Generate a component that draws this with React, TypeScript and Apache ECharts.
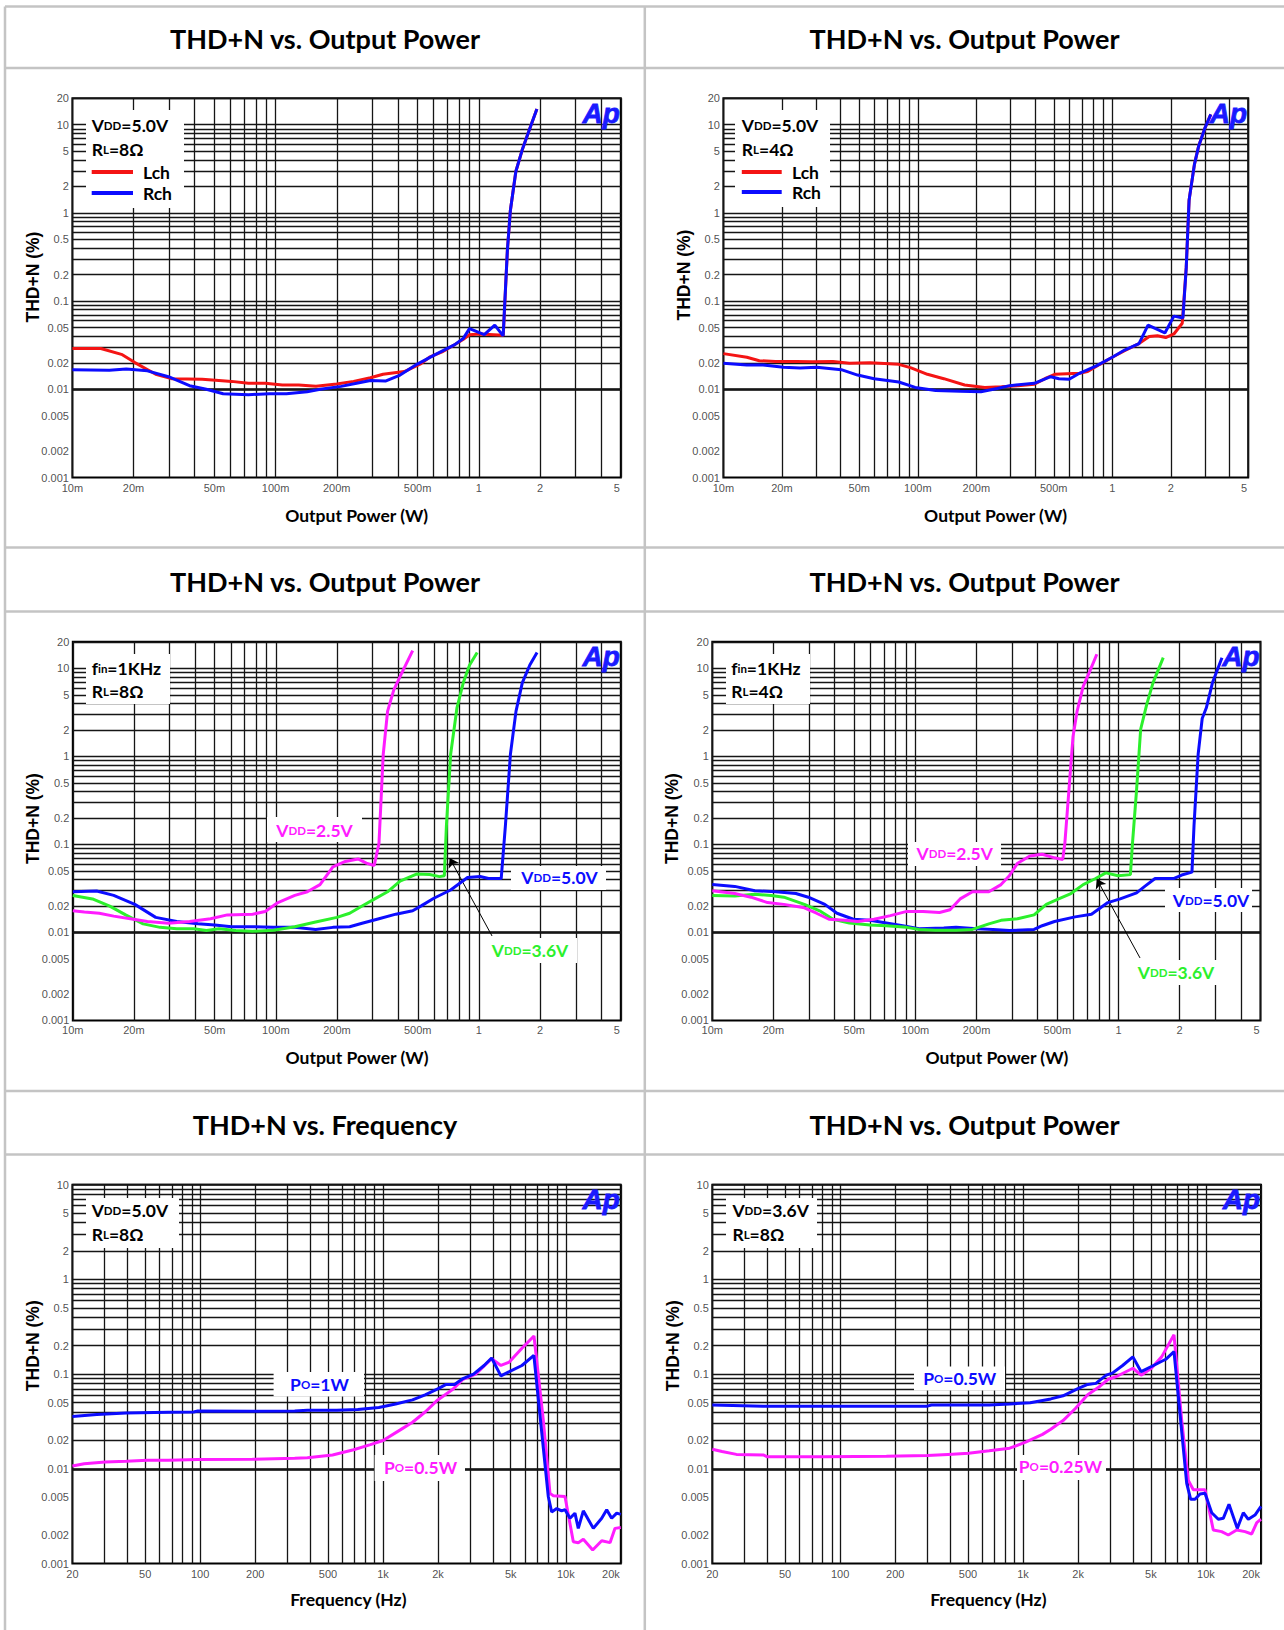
import React, { useEffect, useRef } from "react";
import * as echarts from "echarts";

// ---------------- tick labels ----------------
const powerTicks = [0.01, 0.02, 0.05, 0.1, 0.2, 0.5, 1, 2, 5];
const powerTickLabels = ["10m", "20m", "50m", "100m", "200m", "500m", "1", "2", "5"];
const freqTicks = [20, 50, 100, 200, 500, 1000, 2000, 5000, 10000, 20000];
const freqTickLabels = ["20", "50", "100", "200", "500", "1k", "2k", "5k", "10k", "20k"];
const thdTicksPower = [20, 10, 5, 2, 1, 0.5, 0.2, 0.1, 0.05, 0.02, 0.01, 0.005, 0.002, 0.001];
const thdTickLabelsPower = ["20", "10", "5", "2", "1", "0.5", "0.2", "0.1", "0.05", "0.02", "0.01", "0.005", "0.002", "0.001"];
const thdTicksFreq = [10, 5, 2, 1, 0.5, 0.2, 0.1, 0.05, 0.02, 0.01, 0.005, 0.002, 0.001];
const thdTickLabelsFreq = ["10", "5", "2", "1", "0.5", "0.2", "0.1", "0.05", "0.02", "0.01", "0.005", "0.002", "0.001"];

const titles = [
  "THD+N vs. Output Power",
  "THD+N vs. Output Power",
  "THD+N vs. Output Power",
  "THD+N vs. Output Power",
  "THD+N vs. Frequency",
  "THD+N vs. Output Power",
];

// ---------------- data: panel 1 (VDD=5.0V, RL=8Ω) ----------------
const p1Lch = [
  [0.01, 0.029], [0.0138, 0.029], [0.0176, 0.0247], [0.0203, 0.0201], [0.0257, 0.0148], [0.031, 0.0132],
  [0.0435, 0.013], [0.0526, 0.0126], [0.0607, 0.0123], [0.0735, 0.0117], [0.089, 0.0117], [0.108, 0.0112],
  [0.13, 0.0112], [0.158, 0.0108], [0.2, 0.0115], [0.242, 0.0123], [0.293, 0.0135], [0.338, 0.0148],
  [0.43, 0.0159], [0.52, 0.0196], [0.572, 0.0231], [0.66, 0.0266], [0.76, 0.032], [0.84, 0.037],
  [0.9, 0.0416], [1.01, 0.0424], [1.32, 0.041], [1.383, 0.379], [1.43, 1.057], [1.522, 2.95],
  [1.635, 5.16], [1.756, 8.22], [1.932, 15.07],
];
const p1Rch = [
  [0.01, 0.0167], [0.0152, 0.0164], [0.0184, 0.017], [0.0234, 0.0162], [0.0297, 0.0139], [0.0377, 0.011],
  [0.0456, 0.01], [0.0552, 0.0089], [0.0735, 0.0087], [0.0933, 0.0089], [0.113, 0.0089], [0.143, 0.0094],
  [0.166, 0.01], [0.21, 0.0108], [0.254, 0.0118], [0.293, 0.0126], [0.347, 0.0124], [0.41, 0.0145],
  [0.496, 0.0192], [0.6, 0.0243], [0.762, 0.0321], [0.838, 0.0376], [0.9, 0.0488], [1.064, 0.0416],
  [1.199, 0.0535], [1.318, 0.0404], [1.383, 0.379], [1.43, 1.057], [1.522, 2.95], [1.635, 5.16],
  [1.756, 8.22], [1.932, 15.07],
];

// ---------------- data: panel 2 (VDD=5.0V, RL=4Ω) ----------------
const p2Lch = [
  [0.01, 0.0254], [0.0132, 0.0231], [0.0153, 0.0211], [0.0185, 0.0207], [0.0237, 0.0207], [0.0287, 0.0205],
  [0.0366, 0.0207], [0.0445, 0.0198], [0.0568, 0.02], [0.0798, 0.0192], [0.0923, 0.0175], [0.112, 0.0148],
  [0.136, 0.0132], [0.174, 0.0112], [0.221, 0.0105], [0.269, 0.0107], [0.327, 0.011], [0.397, 0.0114],
  [0.459, 0.0135], [0.506, 0.0148], [0.678, 0.0152], [0.747, 0.0159], [0.864, 0.0192], [1.0, 0.0231],
  [1.157, 0.0274], [1.372, 0.033], [1.549, 0.0397], [1.708, 0.0405], [1.882, 0.0386], [2.074, 0.0424],
  [2.29, 0.0561], [2.4, 0.238], [2.483, 1.398], [2.645, 3.553], [2.777, 5.66], [2.987, 9.03], [3.21, 13.1],
];
const p2Rch = [
  [0.01, 0.0198], [0.0132, 0.0189], [0.016, 0.0189], [0.0204, 0.0178], [0.0248, 0.0175], [0.0302, 0.0178],
  [0.0404, 0.0167], [0.049, 0.0145], [0.0596, 0.0132], [0.0798, 0.0121], [0.0969, 0.0105], [0.1235, 0.0097],
  [0.165, 0.0095], [0.211, 0.0094], [0.256, 0.0102], [0.297, 0.011], [0.397, 0.0117], [0.482, 0.0139],
  [0.532, 0.0132], [0.6, 0.013], [0.678, 0.0152], [0.823, 0.0183], [1.0, 0.0231], [1.157, 0.0279],
  [1.372, 0.033], [1.527, 0.0535], [1.864, 0.0436], [2.074, 0.0676], [2.308, 0.0645], [2.4, 0.238],
  [2.483, 1.398], [2.645, 3.553], [2.777, 5.66], [2.987, 9.03], [3.21, 13.1],
];

// ---------------- data: panel 3 (fin=1KHz, RL=8Ω) ----------------
const p3Vdd25 = [
  [0.01, 0.0176], [0.0114, 0.017], [0.0135, 0.0165], [0.0159, 0.0153], [0.0192, 0.0143], [0.0233, 0.0133],
  [0.0296, 0.0127], [0.0376, 0.0133], [0.0477, 0.0143], [0.0577, 0.0158], [0.0769, 0.0161], [0.0887, 0.0173],
  [0.1024, 0.0218], [0.124, 0.0263], [0.143, 0.0289], [0.165, 0.0349], [0.191, 0.0556], [0.22, 0.064],
  [0.254, 0.0683], [0.279, 0.0611], [0.305, 0.0575], [0.322, 0.102], [0.338, 1.056], [0.355, 3.24],
  [0.381, 5.68], [0.419, 9.06], [0.472, 15.86],
];
const p3Vdd36 = [
  [0.01, 0.0263], [0.0125, 0.024], [0.0152, 0.0199], [0.0183, 0.0157], [0.0222, 0.0125], [0.0269, 0.0114],
  [0.0325, 0.011], [0.0394, 0.011], [0.0455, 0.0105], [0.0525, 0.011], [0.0635, 0.0105], [0.0769, 0.0103],
  [0.0976, 0.0106], [0.124, 0.0116], [0.157, 0.0131], [0.2, 0.0148], [0.231, 0.0165], [0.266, 0.0199],
  [0.307, 0.024], [0.355, 0.0289], [0.409, 0.0383], [0.496, 0.0461], [0.572, 0.0455], [0.64, 0.043],
  [0.676, 0.044], [0.692, 0.163], [0.726, 1.056], [0.78, 3.556], [0.8375, 6.84], [0.9, 10.9], [0.981, 15.1],
];
const p3Vdd50 = [
  [0.01, 0.0289], [0.0131, 0.0295], [0.0159, 0.0263], [0.0202, 0.0208], [0.0256, 0.0148], [0.0325, 0.0133],
  [0.0413, 0.0125], [0.05, 0.0121], [0.0605, 0.0116], [0.0769, 0.0116], [0.0976, 0.0114], [0.124, 0.0114],
  [0.157, 0.0108], [0.191, 0.0114], [0.231, 0.0116], [0.266, 0.0127], [0.322, 0.0143], [0.39, 0.0161],
  [0.472, 0.0176], [0.52, 0.02], [0.6, 0.0244], [0.726, 0.0303], [0.879, 0.042], [1.014, 0.0432],
  [1.116, 0.0409], [1.288, 0.0409], [1.351, 0.163], [1.43, 1.056], [1.523, 3.24], [1.636, 6.84],
  [1.782, 10.9], [1.934, 15.1],
];

// ---------------- data: panel 4 (fin=1KHz, RL=4Ω) ----------------
const p4Vdd25 = [
  [0.01, 0.0297], [0.0129, 0.0276], [0.0155, 0.0251], [0.0187, 0.0218], [0.0225, 0.0208], [0.0284, 0.019],
  [0.0326, 0.0165], [0.0375, 0.0141], [0.0451, 0.0137], [0.0519, 0.0133], [0.0625, 0.0141], [0.0753, 0.0155],
  [0.0907, 0.0173], [0.109, 0.0173], [0.1315, 0.0168], [0.148, 0.0181], [0.166, 0.024], [0.191, 0.0289],
  [0.23, 0.0289], [0.264, 0.0349], [0.29, 0.044], [0.3185, 0.0611], [0.366, 0.0736], [0.421, 0.0771],
  [0.484, 0.0703], [0.531, 0.067], [0.544, 0.102], [0.57, 0.415], [0.597, 1.684], [0.625, 3.24],
  [0.67, 6.23], [0.719, 9.06], [0.782, 14.45],
];
const p4Vdd36 = [
  [0.01, 0.0263], [0.0129, 0.0259], [0.0162, 0.0271], [0.0195, 0.0263], [0.0225, 0.0251], [0.0284, 0.0208],
  [0.0342, 0.0173], [0.0393, 0.0141], [0.0473, 0.0128], [0.0597, 0.0121], [0.0719, 0.0119], [0.0907, 0.0114],
  [0.1043, 0.0108], [0.1256, 0.0106], [0.1585, 0.0106], [0.191, 0.0108], [0.23, 0.0125], [0.264, 0.0137],
  [0.3185, 0.0143], [0.384, 0.0158], [0.441, 0.0208], [0.507, 0.024], [0.583, 0.0276], [0.67, 0.0349],
  [0.771, 0.0409], [0.866, 0.0474], [0.995, 0.044], [1.144, 0.0453], [1.171, 0.102], [1.227, 0.415],
  [1.285, 2.03], [1.378, 3.91], [1.478, 6.84], [1.66, 13.2],
];
const p4Vdd50 = [
  [0.01, 0.0349], [0.0129, 0.0333], [0.0162, 0.0297], [0.0205, 0.0289], [0.0258, 0.0276], [0.0297, 0.0251],
  [0.0358, 0.0208], [0.0411, 0.0165], [0.0495, 0.0141], [0.0597, 0.0137], [0.0719, 0.0128], [0.0866, 0.0119],
  [0.1043, 0.011], [0.1379, 0.0112], [0.1585, 0.0114], [0.2, 0.011], [0.241, 0.0108], [0.29, 0.0105],
  [0.384, 0.0108], [0.421, 0.0119], [0.484, 0.0133], [0.611, 0.015], [0.736, 0.0161], [0.886, 0.0218],
  [1.019, 0.024], [1.227, 0.0281], [1.346, 0.0333], [1.513, 0.0409], [1.865, 0.0409], [2.046, 0.0448],
  [2.299, 0.0483], [2.353, 0.163], [2.466, 1.056], [2.582, 2.69], [2.706, 3.556], [2.9, 6.84], [3.23, 13.2],
];

// ---------------- data: panel 5 (THD+N vs frequency, VDD=5.0V, RL=8Ω) ----------------
const p5Po1W = [
  [20, 0.0357], [27.2, 0.0375], [39.4, 0.0388], [67, 0.0395], [92, 0.0398], [97, 0.0408], [193, 0.0405],
  [329, 0.0408], [386, 0.0415], [559, 0.0415], [728, 0.0422], [949, 0.0444], [1173, 0.0483], [1451, 0.0534],
  [1701, 0.0605], [1994, 0.0698], [2216, 0.0778], [2465, 0.0778], [2740, 0.0897], [3129, 0.1], [3573, 0.1233],
  [3931, 0.148], [4416, 0.0959], [4910, 0.106], [5757, 0.1233], [6690, 0.158], [8023, 0.0051], [8375, 0.0035],
  [8921, 0.0038], [9497, 0.0036], [9900, 0.0037], [10545, 0.003], [11226, 0.0034], [11707, 0.00235],
  [12474, 0.0036], [14146, 0.00235], [15726, 0.003], [16746, 0.0037], [17826, 0.003], [18997, 0.0034],
  [20000, 0.0033],
];
const p5Po05W = [
  [20, 0.0107], [23.2, 0.0113], [30.2, 0.0118], [39.4, 0.012], [51.4, 0.0123], [67, 0.0123], [97, 0.0125],
  [193, 0.0126], [329, 0.0129], [386, 0.0131], [530, 0.014], [691, 0.0159], [854, 0.018], [1001, 0.0199],
  [1237, 0.0256], [1451, 0.031], [1701, 0.0398], [1994, 0.0534], [2401, 0.0686], [2740, 0.0882], [3212, 0.1],
  [3931, 0.1458], [4416, 0.1233], [4910, 0.1341], [5757, 0.1874], [6700, 0.2526], [7534, 0.0327],
  [8197, 0.0055], [8549, 0.0052], [9900, 0.0051], [10996, 0.0017], [11707, 0.00166], [12474, 0.0018],
  [14035, 0.00139], [15726, 0.00174], [17460, 0.00166], [18595, 0.00235], [20000, 0.0024],
];

// ---------------- data: panel 6 (THD+N vs frequency, VDD=3.6V, RL=8Ω) ----------------
const p6Po05W = [
  [20, 0.0471], [38, 0.0459], [300, 0.0459], [316, 0.0471], [653, 0.0471], [845, 0.0483], [1095, 0.0499],
  [1418, 0.0547], [1655, 0.059], [2035, 0.0715], [2257, 0.0778], [2503, 0.0798], [2849, 0.0975],
  [3079, 0.1025], [3503, 0.1233], [3987, 0.152], [4421, 0.106], [5164, 0.1233], [6030, 0.1434],
  [6689, 0.1724], [7849, 0.007], [8253, 0.00476], [8711, 0.00476], [9283, 0.00542], [9883, 0.00551],
  [10755, 0.00344], [11684, 0.00293], [12441, 0.003], [13365, 0.00422], [14840, 0.00235], [16007, 0.00344],
  [17044, 0.00293], [18541, 0.00325], [20000, 0.004],
];
const p6Po025W = [
  [20, 0.0161], [22.6, 0.0152], [27.1, 0.0142], [38, 0.014], [40, 0.0134], [82.5, 0.0134], [179, 0.0136],
  [300, 0.0138], [389, 0.0142], [504, 0.0146], [653, 0.0155], [845, 0.0165], [1040, 0.0192], [1278, 0.0231],
  [1418, 0.0262], [1655, 0.0323], [1933, 0.0433], [2257, 0.0605], [2636, 0.0746], [2923, 0.0882],
  [3242, 0.0943], [3987, 0.1153], [4421, 0.0975], [5031, 0.1153], [5725, 0.152], [6689, 0.26], [7369, 0.0327],
  [8000, 0.0076], [8531, 0.006], [9883, 0.006], [10967, 0.00226], [12187, 0.00217], [13246, 0.002],
  [14724, 0.00226], [16356, 0.00217], [17790, 0.00205], [18960, 0.0027], [20000, 0.00293],
];

// ---------------- styling ----------------
const RED = "#f41414";
const BLUE = "#0c0cff";
const MAGENTA = "#ff1cff";
const GREEN = "#2cf02c";
const FONT = 'Lato, "Noto Sans", sans-serif';
const TICK_FONT = '"Liberation Sans", Arial, sans-serif';

type Curve = { data: number[][]; color: string; arrow?: number[][] };
type Panel = {
  left: number; top: number; width: number; height: number;
  xMin: number; xMax: number; yMin: number; yMax: number;
  xTicks: number[]; xLabels: string[]; yTicks: number[]; yLabels: string[];
  curves: Curve[];
};

const panels: Panel[] = [
  {
    left: 72.4, top: 98.2, width: 548.4, height: 379.3, xMin: 0.01, xMax: 5, yMin: 0.001, yMax: 20,
    xTicks: powerTicks, xLabels: powerTickLabels, yTicks: thdTicksPower, yLabels: thdTickLabelsPower,
    curves: [{ data: p1Lch, color: RED }, { data: p1Rch, color: BLUE }],
  },
  {
    left: 723.4, top: 98.2, width: 524.8, height: 379.3, xMin: 0.01, xMax: 5, yMin: 0.001, yMax: 20,
    xTicks: powerTicks, xLabels: powerTickLabels, yTicks: thdTicksPower, yLabels: thdTickLabelsPower,
    curves: [{ data: p2Lch, color: RED }, { data: p2Rch, color: BLUE }],
  },
  {
    left: 72.8, top: 641.8, width: 548, height: 378.6, xMin: 0.01, xMax: 5, yMin: 0.001, yMax: 20,
    xTicks: powerTicks, xLabels: powerTickLabels, yTicks: thdTicksPower, yLabels: thdTickLabelsPower,
    curves: [
      { data: p3Vdd50, color: BLUE },
      { data: p3Vdd36, color: GREEN, arrow: [[1.161, 0.0091], [0.7175, 0.07]] },
      { data: p3Vdd25, color: MAGENTA },
    ],
  },
  {
    left: 712.3, top: 641.8, width: 548.2, height: 378.6, xMin: 0.01, xMax: 5, yMin: 0.001, yMax: 20,
    xTicks: powerTicks, xLabels: powerTickLabels, yTicks: thdTicksPower, yLabels: thdTickLabelsPower,
    curves: [
      { data: p4Vdd50, color: BLUE },
      { data: p4Vdd36, color: GREEN, arrow: [[1.276, 0.00512], [0.781, 0.0404]] },
      { data: p4Vdd25, color: MAGENTA },
    ],
  },
  {
    left: 72.4, top: 1184.7, width: 548.4, height: 378.8, xMin: 20, xMax: 20000, yMin: 0.001, yMax: 10,
    xTicks: freqTicks, xLabels: freqTickLabels, yTicks: thdTicksFreq, yLabels: thdTickLabelsFreq,
    curves: [{ data: p5Po05W, color: MAGENTA }, { data: p5Po1W, color: BLUE }],
  },
  {
    left: 712.3, top: 1184.7, width: 548.7, height: 378.8, xMin: 20, xMax: 20000, yMin: 0.001, yMax: 10,
    xTicks: freqTicks, xLabels: freqTickLabels, yTicks: thdTicksFreq, yLabels: thdTickLabelsFreq,
    curves: [{ data: p6Po025W, color: MAGENTA }, { data: p6Po05W, color: BLUE }],
  },
];

// grid positions 1..9 x 10^n inside [min, max]
function gridValues(min: number, max: number): number[] {
  const out: number[] = [];
  const d0 = Math.floor(Math.log10(min)) - 1;
  const d1 = Math.ceil(Math.log10(max)) + 1;
  for (let d = d0; d <= d1; d++) {
    for (let m = 1; m <= 9; m++) {
      const v = Number((m * Math.pow(10, d)).toPrecision(6));
      if (v >= min * 0.9999 && v <= max * 1.0001) out.push(v);
    }
  }
  return out;
}

// ---------------- graphic helpers ----------------
const gLine = (x1: number, y1: number, x2: number, y2: number, color: string, w: number, z = 30) => ({
  type: "line", silent: true, z, shape: { x1, y1, x2, y2 }, style: { stroke: color, lineWidth: w },
});
const gRect = (x: number, y: number, w: number, h: number) => ({
  type: "rect", silent: true, z: 40, shape: { x, y, width: w, height: h }, style: { fill: "#ffffff" },
});
const gText = (x: number, y: number, text: string, font: string, fill: string, align = "center", rotation = 0) => ({
  type: "text", silent: true, z: 45, x, y, rotation,
  style: { text, font, fill, align, verticalAlign: "middle" },
});
// rich annotation: parts [text, 'b' | 's'] -> big / small letters
const gAnn = (x: number, y: number, parts: [string, string][], fill: string, align = "left") => ({
  type: "text", silent: true, z: 45, x, y,
  style: {
    text: parts.map(([t, k]) => `{${k}|${t}}`).join(""),
    fill, align, verticalAlign: "middle",
    rich: {
      b: { fontSize: 17.5, fontWeight: "bold", fontFamily: FONT, fill },
      s: { fontSize: 11.5, fontWeight: "bold", fontFamily: FONT, fill },
    },
  },
});

function buildGraphics() {
  const g: any[] = [];
  const border = "#c4c4c4";
  // table frame
  [6.4, 68, 547.5, 611.4, 1091, 1154.4].forEach((y) => g.push(gLine(5, y, 1284, y, border, 2.5, 10)));
  [5, 644.8].forEach((x) => g.push(gLine(x, 6.4, x, 1630, border, 2.5, 10)));

  // titles
  const titlePos = [[325, 38], [964.5, 38], [325, 581], [964.5, 581], [325, 1124], [964.5, 1124]];
  titlePos.forEach(([x, y], i) => g.push(gText(x, y, titles[i], `bold 27px ${FONT}`, "#000")));

  // axis names
  const xNames = ["Output Power (W)", "Output Power (W)", "Output Power (W)", "Output Power (W)", "Frequency (Hz)", "Frequency (Hz)"];
  const xNamePos = [[356.7, 515], [995.6, 515], [357, 1057], [996.9, 1057], [348.3, 1599.6], [988.3, 1599.6]];
  const yNamePos = [[33, 277], [684.4, 275], [32.8, 818.6], [672, 818.6], [32.8, 1345.7], [672.9, 1345.7]];
  xNamePos.forEach(([x, y], i) => g.push(gText(x, y, xNames[i], `bold 17.5px ${FONT}`, "#000")));
  yNamePos.forEach(([x, y]) => g.push(gText(x, y, "THD+N (%)", `bold 17.5px ${TICK_FONT}`, "#000", "center", Math.PI / 2)));

  // Ap logos
  panels.forEach((p) =>
    g.push({
      type: "text", silent: true, z: 45, x: p.left + p.width - 1, y: p.top + 1,
      style: { text: "Ap", font: `italic 900 28px ${TICK_FONT}`, fill: "#1a1aff", align: "right", verticalAlign: "top", stroke: "#1a1aff", lineWidth: 0.8 },
    })
  );

  // panel 1 legend box
  g.push(gRect(86, 110, 98, 98));
  g.push(gAnn(91.7, 125, [["V", "b"], ["DD", "s"], ["=5.0V", "b"]], "#000"));
  g.push(gAnn(91.7, 149, [["R", "b"], ["L", "s"], ["=8Ω", "b"]], "#000"));
  g.push(gLine(91.7, 172, 133, 172, RED, 4, 46));
  g.push(gLine(91.7, 193, 133, 193, BLUE, 4, 46));
  g.push(gAnn(143, 172, [["Lch", "b"]], "#000"));
  g.push(gAnn(143, 193, [["Rch", "b"]], "#000"));

  // panel 2 legend box
  g.push(gRect(735, 110, 95, 97));
  g.push(gAnn(741.8, 125, [["V", "b"], ["DD", "s"], ["=5.0V", "b"]], "#000"));
  g.push(gAnn(741.8, 149, [["R", "b"], ["L", "s"], ["=4Ω", "b"]], "#000"));
  g.push(gLine(741.8, 172, 781.7, 172, RED, 4, 46));
  g.push(gLine(741.8, 192, 781.7, 192, BLUE, 4, 46));
  g.push(gAnn(792, 172, [["Lch", "b"]], "#000"));
  g.push(gAnn(792, 192, [["Rch", "b"]], "#000"));

  // panel 3
  g.push(gRect(86, 654, 84, 50));
  g.push(gAnn(91.7, 668.6, [["f", "b"], ["in", "s"], ["=1KHz", "b"]], "#000"));
  g.push(gAnn(91.7, 691.8, [["R", "b"], ["L", "s"], ["=8Ω", "b"]], "#000"));
  g.push(gRect(267, 817, 95, 25));
  g.push(gAnn(314.5, 830, [["V", "b"], ["DD", "s"], ["=2.5V", "b"]], MAGENTA, "center"));
  g.push(gRect(511, 866, 95, 24));
  g.push(gAnn(559.5, 877.5, [["V", "b"], ["DD", "s"], ["=5.0V", "b"]], BLUE, "center"));
  g.push(gRect(482, 938, 95, 25));
  g.push(gAnn(530, 950.7, [["V", "b"], ["DD", "s"], ["=3.6V", "b"]], GREEN, "center"));

  // panel 4
  g.push(gRect(726, 654, 84, 50));
  g.push(gAnn(731.2, 668.6, [["f", "b"], ["in", "s"], ["=1KHz", "b"]], "#000"));
  g.push(gAnn(731.2, 691.8, [["R", "b"], ["L", "s"], ["=4Ω", "b"]], "#000"));
  g.push(gRect(908, 842, 93, 24));
  g.push(gAnn(954.7, 853.6, [["V", "b"], ["DD", "s"], ["=2.5V", "b"]], MAGENTA, "center"));
  g.push(gRect(1165, 888, 87, 24));
  g.push(gAnn(1211, 900, [["V", "b"], ["DD", "s"], ["=5.0V", "b"]], BLUE, "center"));
  g.push(gRect(1129, 960, 96, 25));
  g.push(gAnn(1176, 972, [["V", "b"], ["DD", "s"], ["=3.6V", "b"]], GREEN, "center"));

  // panel 5
  g.push(gRect(86, 1198, 93, 50));
  g.push(gAnn(91.7, 1210.5, [["V", "b"], ["DD", "s"], ["=5.0V", "b"]], "#000"));
  g.push(gAnn(91.7, 1234, [["R", "b"], ["L", "s"], ["=8Ω", "b"]], "#000"));
  g.push(gRect(273.6, 1372, 90.4, 24.5));
  g.push(gAnn(319.5, 1384.4, [["P", "b"], ["O", "s"], ["=1W", "b"]], BLUE, "center"));
  g.push(gRect(374.6, 1455, 90.4, 26));
  g.push(gAnn(420.5, 1467, [["P", "b"], ["O", "s"], ["=0.5W", "b"]], MAGENTA, "center"));

  // panel 6
  g.push(gRect(726, 1198, 91, 50));
  g.push(gAnn(732.4, 1210.5, [["V", "b"], ["DD", "s"], ["=3.6V", "b"]], "#000"));
  g.push(gAnn(732.4, 1234, [["R", "b"], ["L", "s"], ["=8Ω", "b"]], "#000"));
  g.push(gRect(914, 1366.6, 91, 24));
  g.push(gAnn(959.7, 1378.6, [["P", "b"], ["O", "s"], ["=0.5W", "b"]], BLUE, "center"));
  g.push(gRect(1017, 1455, 89, 25));
  g.push(gAnn(1060.4, 1466.4, [["P", "b"], ["O", "s"], ["=0.25W", "b"]], MAGENTA, "center"));

  return g;
}

function buildOption() {
  const grid: any[] = [];
  const xAxis: any[] = [];
  const yAxis: any[] = [];
  const series: any[] = [];

  panels.forEach((p, i) => {
    grid.push({
      left: p.left, top: p.top, width: p.width, height: p.height,
      show: true, borderColor: "#000", borderWidth: 2, backgroundColor: "transparent",
    });
    const hidden = {
      axisLine: { show: false }, axisTick: { show: false }, axisLabel: { show: false },
      splitLine: { show: false }, minorTick: { show: false }, minorSplitLine: { show: false },
    };
    xAxis.push({ type: "log", logBase: 10, gridIndex: i, min: p.xMin, max: p.xMax, ...hidden });
    yAxis.push({ type: "log", logBase: 10, gridIndex: i, min: p.yMin, max: p.yMax, ...hidden });

    const xg = gridValues(p.xMin, p.xMax);
    const yg = gridValues(p.yMin, p.yMax);

    // y tick labels + grid lines
    series.push({
      type: "scatter", xAxisIndex: i, yAxisIndex: i, z: 1, silent: true, clip: false, symbolSize: 1,
      itemStyle: { color: "rgba(0,0,0,0)" },
      label: {
        show: true, position: "left", distance: 3, formatter: "{b}",
        fontSize: 11, fontFamily: TICK_FONT, color: "#222",
      },
      data: p.yTicks.map((v, k) => ({ name: p.yLabels[k], value: [p.xMin, v] })),
      markLine: {
        silent: true, symbol: ["none", "none"], label: { show: false },
        emphasis: { disabled: true },
        lineStyle: { color: "#151515", width: 1.3, type: "solid" },
        data: [...xg.map((v) => ({ xAxis: v })), ...yg.map((v) => ({ yAxis: v }))],
      },
    });
    // x tick labels
    series.push({
      type: "scatter", xAxisIndex: i, yAxisIndex: i, z: 1, silent: true, clip: false, symbolSize: 1,
      itemStyle: { color: "rgba(0,0,0,0)" },
      label: {
        show: true, position: "bottom", distance: 4, formatter: "{b}",
        fontSize: 11, fontFamily: TICK_FONT, color: "#222",
      },
      data: p.xTicks.map((v, k) => {
        const item: any = { name: p.xLabels[k], value: [v, p.yMin] };
        if (k === p.xTicks.length - 1) item.label = { align: "right", offset: [-1, 0] };
        return item;
      }),
    });

    p.curves.forEach((c) => {
      const s: any = {
        type: "line", xAxisIndex: i, yAxisIndex: i, z: 5, silent: true,
        showSymbol: false, symbol: "none", data: c.data,
        lineStyle: { color: c.color, width: 3 }, itemStyle: { color: c.color },
      };
      if (c.arrow) {
        s.markLine = {
          silent: true, symbol: ["none", "arrow"], symbolSize: 9, label: { show: false },
          emphasis: { disabled: true },
          lineStyle: { color: "#000", width: 1, type: "solid" },
          data: [[{ coord: c.arrow[0] }, { coord: c.arrow[1] }]],
        };
      }
      series.push(s);
    });
  });

  return {
    animation: false,
    backgroundColor: "#ffffff",
    grid, xAxis, yAxis, series,
    graphic: { elements: buildGraphics() },
  };
}

export default function App() {
  const ref = useRef<HTMLDivElement>(null);
  useEffect(() => {
    if (!ref.current) return;
    const chart = echarts.init(ref.current, null, { renderer: "svg" });
    chart.setOption(buildOption() as any);
    return () => chart.dispose();
  }, []);
  return (
    <div
      ref={ref}
      style={{ position: "absolute", left: 0, top: 0, width: 1284, height: 1630, background: "#fff" }}
    />
  );
}
